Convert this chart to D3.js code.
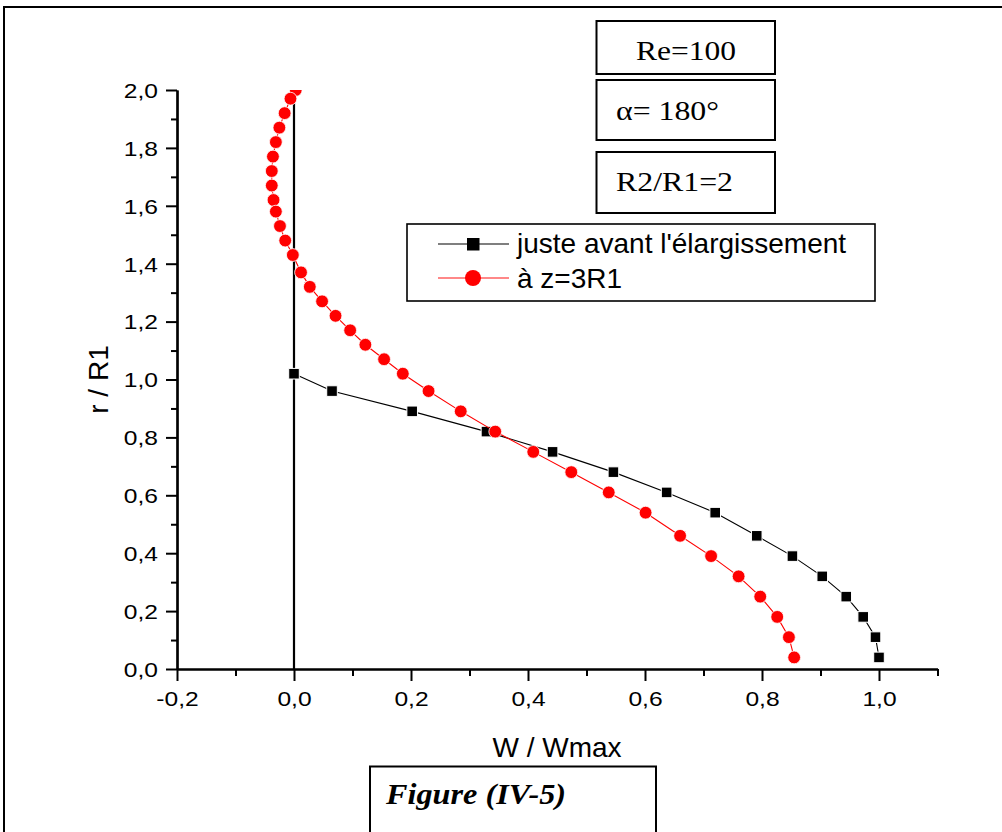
<!DOCTYPE html>
<html>
<head>
<meta charset="utf-8">
<script src="https://cdn.jsdelivr.net/npm/d3@7"></script>
<style>
  html, body { margin: 0; padding: 0; background: #fff; }
  svg { display: block; }
</style>
</head>
<body>
<svg id="chart" width="1002" height="832"></svg>
<script>
// ---------- data ----------
const seriesNames = ["juste avant l'élargissement", "à z=3R1"];
const blackW = [0, 0.065, 0.202, 0.329, 0.442, 0.546, 0.637, 0.720, 0.791, 0.852, 0.903, 0.944, 0.973, 0.994, 1.0];
const blackR = [1.02, 0.96, 0.89, 0.82, 0.75, 0.68, 0.61, 0.54, 0.46, 0.39, 0.32, 0.25, 0.18, 0.11, 0.04];
const redW = [0.003, -0.006, -0.016, -0.025, -0.031, -0.036, -0.038, -0.038, -0.035, -0.031, -0.024, -0.015, -0.002, 0.012, 0.027, 0.048, 0.071, 0.096, 0.122, 0.154, 0.186, 0.230, 0.285, 0.344, 0.409, 0.474, 0.538, 0.601, 0.660, 0.713, 0.760, 0.797, 0.826, 0.846, 0.855];
const redR = [2.00, 1.97, 1.92, 1.87, 1.82, 1.77, 1.72, 1.67, 1.62, 1.58, 1.53, 1.48, 1.43, 1.37, 1.32, 1.27, 1.22, 1.17, 1.12, 1.07, 1.02, 0.96, 0.89, 0.82, 0.75, 0.68, 0.61, 0.54, 0.46, 0.39, 0.32, 0.25, 0.18, 0.11, 0.04];
const xMajorTicks = [-0.2, 0.0, 0.2, 0.4, 0.6, 0.8, 1.0];
const xMinorTicks = [-0.1, 0.1, 0.3, 0.5, 0.7, 0.9, 1.1];
const yMajorTicks = [0.0, 0.2, 0.4, 0.6, 0.8, 1.0, 1.2, 1.4, 1.6, 1.8, 2.0];
const yMinorTicks = [0.1, 0.3, 0.5, 0.7, 0.9, 1.1, 1.3, 1.5, 1.7, 1.9];
const xTitle = "W / Wmax";
const yTitle = "r / R1";
const infoLabels = ["Re=100", "α= 180°", "R2/R1=2"];
const captionText = "Figure (IV-5)";

// ---------- layout ----------
const svg = d3.select("#chart");
const L = 177, R = 937.5, T = 90, B = 669;
const x = d3.scaleLinear().domain([-0.2, 1.1]).range([L, R]);
const y = d3.scaleLinear().domain([0, 2]).range([B, T]);
const fmt = v => d3.format(".1f")(v).replace(".", ",").replace("−", "-");
const sans = "'Liberation Sans', Arial, sans-serif";
const serif = "'Liberation Serif', 'Times New Roman', serif";

// outer frame
svg.append("path").attr("d", "M4,840 V7 H1010")
  .attr("fill", "none").attr("stroke", "#000").attr("stroke-width", 2);

// clip
svg.append("defs").append("clipPath").attr("id", "plotclip")
  .append("rect").attr("x", L).attr("y", T).attr("width", R - L + 10).attr("height", B - T + 10);

// axes
const tickScaleX = 1.2;
const xAxis = svg.append("g").attr("transform", `translate(0,${B})`)
  .call(d3.axisBottom(x).tickValues(xMajorTicks).tickFormat(fmt).tickSize(12).tickPadding(0).tickSizeOuter(0));
const xAxisMinor = svg.append("g").attr("transform", `translate(0,${B})`)
  .call(d3.axisBottom(x).tickValues(xMinorTicks).tickFormat("").tickSize(7).tickSizeOuter(0));
const yAxis = svg.append("g").attr("transform", `translate(${L},0)`)
  .call(d3.axisLeft(y).tickValues(yMajorTicks).tickFormat(fmt).tickSize(11).tickPadding(0).tickSizeOuter(0));
const yAxisMinor = svg.append("g").attr("transform", `translate(${L},0)`)
  .call(d3.axisLeft(y).tickValues(yMinorTicks).tickFormat("").tickSize(6).tickSizeOuter(0));

[xAxis, xAxisMinor, yAxis, yAxisMinor].forEach(g => {
  g.select(".domain").attr("stroke", "#000").attr("stroke-width", 2.2);
  g.selectAll(".tick line").attr("stroke", "#000").attr("stroke-width", 2);
});
xAxis.selectAll(".tick text")
  .attr("font-family", sans).attr("font-size", 20.5).attr("fill", "#000")
  .attr("y", 0).attr("dy", 0)
  .attr("transform", `translate(0,37) scale(${tickScaleX},1)`);
yAxis.selectAll(".tick text")
  .attr("font-family", sans).attr("font-size", 20.5).attr("fill", "#000")
  .attr("x", 0).attr("dy", "0.36em")
  .attr("transform", `translate(-19,0) scale(${tickScaleX},1)`);

// zero vertical line
svg.append("line").attr("x1", x(0)).attr("x2", x(0)).attr("y1", y(2)).attr("y2", y(0))
  .attr("stroke", "#000").attr("stroke-width", 2.2);

// axis titles
svg.append("text").attr("x", (L + R) / 2 + 0).attr("y", 757)
  .attr("text-anchor", "middle").attr("font-family", sans).attr("font-size", 28)
  .text(xTitle).attr("x", 557);
svg.append("text").attr("transform", `translate(108,${(T + B) / 2}) rotate(-90)`)
  .attr("text-anchor", "middle").attr("font-family", sans).attr("font-size", 28)
  .text(yTitle);

// series
const blackData = blackW.map((w, i) => ({ w, r: blackR[i] }));
const redData = redW.map((w, i) => ({ w, r: redR[i] }));
const line = d3.line().x(d => x(d.w)).y(d => y(d.r));
const plot = svg.append("g").attr("clip-path", "url(#plotclip)");

plot.append("path").datum(blackData).attr("d", line)
  .attr("fill", "none").attr("stroke", "#000").attr("stroke-width", 1.1);
plot.selectAll("rect.sq").data(blackData).join("rect").attr("class", "sq")
  .attr("x", d => x(d.w) - 5.3).attr("y", d => y(d.r) - 5.3)
  .attr("width", 10.6).attr("height", 10.6)
  .attr("fill", "#000").attr("stroke", "#fff").attr("stroke-width", 1);

plot.append("path").datum(redData).attr("d", line)
  .attr("fill", "none").attr("stroke", "#ff0000").attr("stroke-width", 1.1);
plot.selectAll("circle.ci").data(redData).join("circle").attr("class", "ci")
  .attr("cx", d => x(d.w)).attr("cy", d => y(d.r)).attr("r", 6.4)
  .attr("fill", "#ff0000").attr("stroke", "#fff").attr("stroke-width", 0.8);

// legend
const lg = svg.append("g");
lg.append("rect").attr("x", 407).attr("y", 224).attr("width", 468).attr("height", 77)
  .attr("fill", "#fff").attr("stroke", "#000").attr("stroke-width", 1.6);
const rows = [244, 278];
lg.append("line").attr("x1", 438).attr("x2", 509).attr("y1", rows[0]).attr("y2", rows[0]).attr("stroke", "#000").attr("stroke-width", 1.1);
lg.append("rect").attr("x", 467).attr("y", rows[0] - 6).attr("width", 12.5).attr("height", 12.5).attr("fill", "#000");
lg.append("line").attr("x1", 438).attr("x2", 509).attr("y1", rows[1]).attr("y2", rows[1]).attr("stroke", "#ff6060").attr("stroke-width", 1.4);
lg.append("circle").attr("cx", 473).attr("cy", rows[1]).attr("r", 8).attr("fill", "#ff0000");
lg.selectAll("text").data(seriesNames).join("text")
  .attr("x", 517).attr("y", (d, i) => [253, 288][i])
  .attr("font-family", sans).attr("font-size", 28).attr("fill", "#000").text(d => d);

// info boxes
const boxY = [21, 80, 152], boxH = [53, 60, 61];
const txtBase = [60, 120, 191];
const txtLen = [100, 103, 117];
infoLabels.forEach((t, i) => {
  svg.append("rect").attr("x", 596.5).attr("y", boxY[i]).attr("width", 178.5).attr("height", boxH[i])
    .attr("fill", "#fff").attr("stroke", "#000").attr("stroke-width", 2);
  const tx = svg.append("text").attr("font-family", serif).attr("font-size", 28).attr("fill", "#000")
    .attr("y", txtBase[i]).attr("textLength", txtLen[i]).attr("lengthAdjust", "spacingAndGlyphs").text(t);
  if (i === 0) tx.attr("x", 686 - txtLen[i] / 2); else tx.attr("x", 616);
});

// caption box
svg.append("path").attr("d", "M370,840 V766.5 H656 V840")
  .attr("fill", "none").attr("stroke", "#000").attr("stroke-width", 2);
svg.append("text").attr("x", 386).attr("y", 804)
  .attr("font-family", serif).attr("font-size", 30).attr("font-weight", "bold").attr("font-style", "italic")
  .attr("textLength", 180).attr("lengthAdjust", "spacingAndGlyphs").text(captionText);
</script>
</body>
</html>
